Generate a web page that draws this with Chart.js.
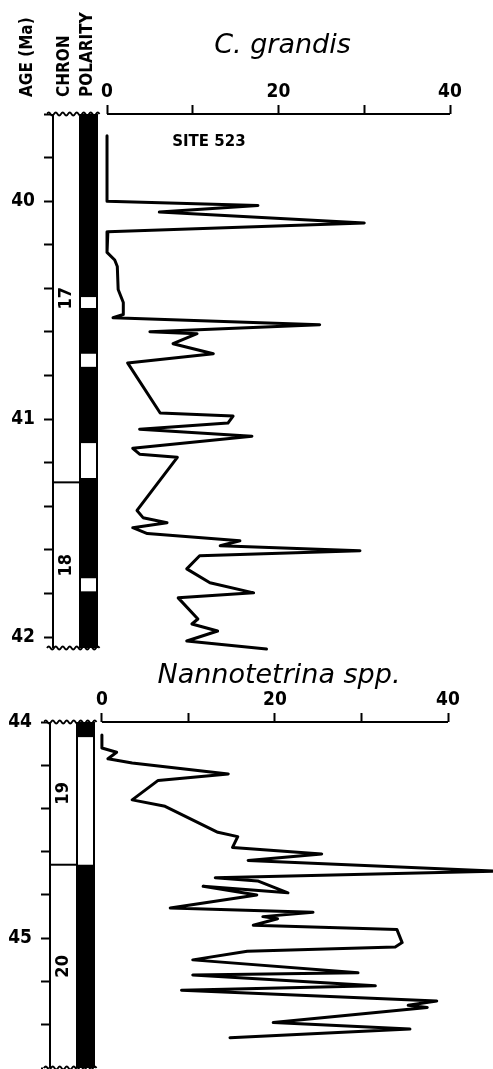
<!DOCTYPE html>
<html>
<head>
<meta charset="utf-8">
<script src="https://cdn.jsdelivr.net/npm/chart.js@4.4.1/dist/chart.umd.min.js"></script>
<style>
  html, body { margin: 0; padding: 0; background: #fff; }
  canvas { display: block; }
</style>
</head>
<body>
<canvas id="grandis-chart" width="493" height="656"></canvas>
<canvas id="nanno-chart" width="493" height="413"></canvas>
<script>
const FONT = '"DejaVu Sans Condensed", "DejaVu Sans", sans-serif';

// C. grandis, site 523 (age in Ma, abundance in %)
const grandisAge = [39.70, 40.00, 40.02, 40.05, 40.10, 40.14, 40.16, 40.235, 40.27, 40.30,
  40.405, 40.465, 40.52, 40.535, 40.567, 40.599, 40.608, 40.654, 40.70, 40.742,
  40.972, 40.986, 41.018, 41.046, 41.078, 41.134, 41.161, 41.175, 41.419, 41.452,
  41.475, 41.498, 41.525, 41.558, 41.581, 41.604, 41.627, 41.687, 41.751, 41.797,
  41.82, 41.917, 41.94, 41.972, 42.018, 42.055];
const grandisPct = [0, 0, 17.6, 6.1, 30, 0.1, 0, 0, 0.9, 1.2,
  1.3, 1.9, 1.9, 0.7, 24.8, 5.0, 10.5, 7.7, 12.4, 2.4,
  6.2, 14.7, 14.1, 3.8, 16.9, 3.0, 3.8, 8.2, 3.5, 4.2,
  7.0, 3.0, 4.7, 15.5, 13.2, 29.5, 10.8, 9.3, 12.0, 17.1,
  8.3, 10.6, 9.9, 12.9, 9.3, 18.6];

// Nannotetrina spp.
const nannoAge = [44.06, 44.12, 44.14, 44.17, 44.19, 44.24, 44.27, 44.36, 44.39, 44.51,
  44.53, 44.58, 44.61, 44.64, 44.69, 44.72, 44.735, 44.79, 44.76, 44.80,
  44.86, 44.88, 44.90, 44.91, 44.94, 44.96, 45.02, 45.04, 45.06, 45.10,
  45.16, 45.17, 45.22, 45.24, 45.29, 45.31, 45.32, 45.39, 45.42, 45.46];
const nannoPct = [0, 0, 1.7, 0.7, 3.5, 14.6, 6.5, 3.5, 7.3, 13.4,
  15.7, 15.1, 25.4, 16.9, 46, 13.1, 18.0, 21.5, 11.7, 17.9,
  7.9, 24.4, 18.6, 20.3, 17.5, 34.1, 34.7, 33.9, 16.8, 10.5,
  29.6, 10.5, 31.6, 9.2, 38.7, 35.4, 37.6, 19.8, 35.6, 14.8];

// tick values
const pctTicks = [0, 10, 20, 30, 40];
const grandisAgeTicks = [39.6, 39.8, 40, 40.2, 40.4, 40.6, 40.8, 41, 41.2, 41.4, 41.6, 41.8, 42];
const nannoAgeTicks = [44, 44.2, 44.4, 44.6, 44.8, 45, 45.2, 45.4, 45.6];

// magnetostratigraphy: chron names + boundaries, reversed (white) polarity intervals
const grandisChronNames = ["17", "18"];
const grandisChronBounds = [39.6, 41.29, 42.05];
const grandisReversed = [[40.44, 40.49], [40.70, 40.76], [41.11, 41.27], [41.73, 41.79]];
const nannoChronNames = ["19", "20"];
const nannoChronBounds = [44.0, 44.66, 45.6];
const nannoReversed = [[44.07, 44.66]];

function wavy(ctx, x0, x1, y) {
  ctx.beginPath();
  ctx.moveTo(x0, y);
  let up = true;
  for (let x = x0; x < x1; x += 3.5) {
    ctx.quadraticCurveTo(x + 1.75, y + (up ? -3 : 3), x + 3.5, y);
    up = !up;
  }
  ctx.stroke();
}

// draws chron / polarity columns, breaks, titles
const stratPlugin = {
  id: 'strat',
  afterDraw(chart, args, opts) {
    const ctx = chart.ctx;
    const area = chart.chartArea;
    const xs = chart.scales.x, ys = chart.scales.y;
    const left = area.left;
    const chronRight = left + 26;
    const polRight = left + 45;
    ctx.save();

    // polarity column
    ctx.fillStyle = '#000';
    ctx.fillRect(chronRight, area.top, polRight - chronRight, area.bottom - area.top);
    ctx.fillStyle = '#fff';
    opts.reversed.forEach(r => {
      const y0 = ys.getPixelForValue(r[0]), y1 = ys.getPixelForValue(r[1]);
      ctx.fillRect(chronRight + 2, y0, polRight - chronRight - 4, y1 - y0);
    });

    // chron boundaries + labels
    ctx.strokeStyle = '#000';
    ctx.lineWidth = 2;
    opts.bounds.slice(1, -1).forEach(b => {
      const y = ys.getPixelForValue(b);
      ctx.beginPath();
      ctx.moveTo(left, y);
      ctx.lineTo(chronRight, y);
      ctx.stroke();
    });
    ctx.fillStyle = '#000';
    ctx.font = 'bold 18px ' + FONT;
    ctx.textAlign = 'center';
    ctx.textBaseline = 'middle';
    opts.names.forEach((n, i) => {
      const y = ys.getPixelForValue((opts.bounds[i] + opts.bounds[i + 1]) / 2);
      ctx.save();
      ctx.translate(left + 13, y);
      ctx.rotate(-Math.PI / 2);
      ctx.fillText(n, 0, 0);
      ctx.restore();
    });

    // breaks
    ctx.fillStyle = '#fff';
    ctx.fillRect(left - 7, area.top - 3, polRight - left + 9, 3);
    ctx.fillRect(left - 7, area.bottom, polRight - left + 9, 4);
    ctx.lineWidth = 1.8;
    wavy(ctx, left - 6, polRight + 1, area.top);
    wavy(ctx, left - 6, polRight + 1, area.bottom);

    // percentage axis line
    ctx.lineWidth = 2;
    ctx.beginPath();
    ctx.moveTo(xs.getPixelForValue(0), area.top);
    ctx.lineTo(xs.getPixelForValue(40), area.top);
    ctx.stroke();

    // title
    ctx.fillStyle = '#000';
    ctx.font = 'italic 27px "DejaVu Sans", sans-serif';
    ctx.textAlign = 'center';
    ctx.textBaseline = 'alphabetic';
    ctx.fillText(opts.title, xs.getPixelForValue(20) + opts.titleShift, opts.titleY);

    if (opts.site) {
      ctx.font = 'bold 15px "DejaVu Sans", sans-serif';
      ctx.textAlign = 'left';
      ctx.textBaseline = 'middle';
      ctx.fillText(opts.site, xs.getPixelForValue(7.6), ys.getPixelForValue(39.73));
    }

    if (opts.headers) {
      ctx.font = 'bold 17px ' + FONT;
      ctx.textAlign = 'left';
      ctx.textBaseline = 'middle';
      [['AGE (Ma)', 28], ['CHRON', 65], ['POLARITY', 88]].forEach(h => {
        ctx.save();
        ctx.translate(h[1], 97);
        ctx.rotate(-Math.PI / 2);
        ctx.fillText(h[0], 0, 0);
        ctx.restore();
      });
    }
    ctx.restore();
  }
};

function makeChart(canvas, ages, pcts, cfg) {
  return new Chart(canvas, {
    type: 'scatter',
    data: {
      datasets: [{
        data: ages.map((a, i) => ({ x: pcts[i], y: a })),
        showLine: true,
        borderColor: '#000',
        borderWidth: 3,
        pointRadius: 0,
        tension: 0,
        clip: false,
        borderJoinStyle: 'round',
        borderCapStyle: 'round'
      }]
    },
    options: {
      responsive: false,
      animation: false,
      layout: { padding: cfg.padding },
      scales: {
        x: {
          type: 'linear',
          position: 'top',
          min: cfg.xMin,
          max: 40,
          afterBuildTicks: s => { s.ticks = pctTicks.map(v => ({ value: v })); },
          afterFit: s => { s.height = cfg.top; s.paddingLeft = 0; s.paddingRight = 0; },
          border: { display: false },
          grid: { drawOnChartArea: false, tickLength: 9, tickWidth: 2, tickColor: '#000' },
          ticks: {
            callback: v => (v % 20 === 0 ? v : ''),
            padding: 2,
            color: '#000',
            maxRotation: 0,
            autoSkip: false,
            font: { family: FONT, size: 19, weight: 'bold' }
          }
        },
        y: {
          type: 'linear',
          position: 'left',
          reverse: true,
          min: cfg.yMin,
          max: cfg.yMax,
          afterBuildTicks: s => { s.ticks = cfg.ageTicks.map(v => ({ value: v })); },
          afterFit: s => { s.width = cfg.left; s.paddingTop = 0; s.paddingBottom = 0; },
          border: { display: true, color: '#000', width: 2 },
          grid: { drawOnChartArea: false, tickLength: 9, tickWidth: 2, tickColor: '#000' },
          ticks: {
            callback: v => (Number.isInteger(v) ? v : ''),
            padding: 9,
            color: '#000',
            autoSkip: false,
            font: { family: FONT, size: 19, weight: 'bold' }
          }
        }
      },
      plugins: {
        legend: { display: false },
        tooltip: { enabled: false },
        strat: cfg.strat
      }
    },
    plugins: [stratPlugin]
  });
}

makeChart(document.getElementById('grandis-chart'), grandisAge, grandisPct, {
  padding: { top: 0, left: 0, right: 43, bottom: 8 },
  top: 114, left: 53, xMin: -6.3, yMin: 39.6, yMax: 42.05,
  ageTicks: grandisAgeTicks,
  strat: {
    names: grandisChronNames, bounds: grandisChronBounds, reversed: grandisReversed,
    title: 'C. grandis', titleShift: 4, titleY: 53, site: 'SITE 523', headers: true
  }
});

makeChart(document.getElementById('nanno-chart'), nannoAge, nannoPct, {
  padding: { top: 0, left: 0, right: 45, bottom: 1 },
  top: 66, left: 50, xMin: -6.0, yMin: 44, yMax: 45.6,
  ageTicks: nannoAgeTicks,
  strat: {
    names: nannoChronNames, bounds: nannoChronBounds, reversed: nannoReversed,
    title: 'Nannotetrina spp.', titleShift: 4, titleY: 27, site: null, headers: false
  }
});
</script>
</body>
</html>
